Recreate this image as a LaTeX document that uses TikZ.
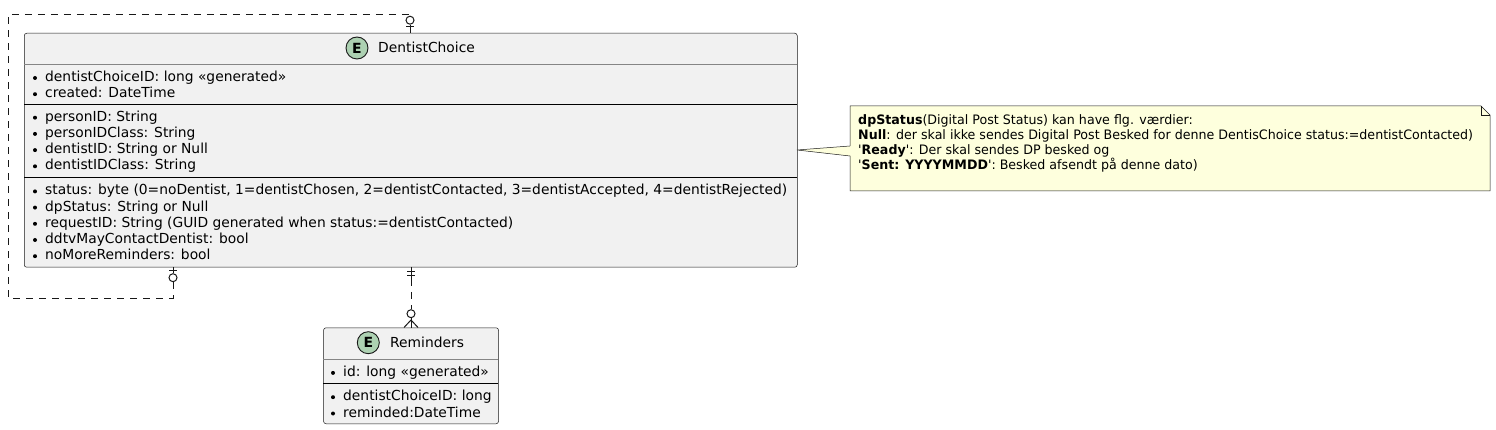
\documentclass[tikz,border=0pt]{standalone}
\usepackage{fontspec}
\setmainfont{DejaVu Sans}
\newfontfamily\notefont{DejaVu Sans}[FakeStretch=0.972]
\definecolor{entfill}{HTML}{F1F1F1}
\definecolor{entline}{HTML}{181818}
\definecolor{hdrgray}{HTML}{858585}
\definecolor{efill}{HTML}{ADD1B2}
\definecolor{notefill}{HTML}{FEFFDD}
\newcommand\attrline[4]{%
  \node[bulletdot] (#1b) at (#2-10,#3-3.6) {};
  \node[attr] (#1) at (#2,#3) {#4};}
\begin{document}
\begin{tikzpicture}[x=1pt,y=-1pt,
  entity/.style={draw=entline, line width=0.5pt, fill=entfill, rounded corners=2.5pt,
    anchor=north west, inner sep=0pt},
  sepline/.style={draw=black, line width=0.9pt},
  hdrline/.style={draw=hdrgray, line width=0.8pt},
  attr/.style={anchor=base west, inner sep=0pt, font=\fontsize{13.83}{16}\selectfont},
  bulletdot/.style={circle, fill=black, inner sep=0pt, minimum size=4pt},
  ebadge/.style={circle, draw=entline, line width=0.9pt, fill=efill, minimum size=22pt,
    inner sep=0pt, font=\fontsize{14}{14}\selectfont\bfseries},
  etitle/.style={anchor=base west, inner sep=0pt, font=\fontsize{13.83}{16}\selectfont},
  rel/.style={draw=entline, line width=1pt, dash pattern=on 7pt off 6pt},
  relsolid/.style={draw=entline, line width=1pt},
  notetext/.style={anchor=base west, inner sep=0pt, font=\notefont\fontsize{13}{15}\selectfont},
  noteshape/.style={draw=entline, line width=0.5pt, fill=notefill}
]
\useasboundingbox (0,0) rectangle (1496,430);

% ---------- DentistChoice ----------
\node[entity, minimum width=773pt, minimum height=234pt] (dc) at (24,33) {};
\draw[hdrline] (24,64.3) -- (797,64.3);
\draw[sepline] (24,104) -- (797,104);
\draw[sepline] (24,177.5) -- (797,177.5);
\node[ebadge] (dcE) at (357,48) {E};
\node[etitle] (dcT) at (378,53) {DentistChoice};
\attrline{a1}{45}{81.6}{dentistChoiceID: long «generated»}
\attrline{a2}{45}{97.8}{created: DateTime}
\attrline{a3}{45}{121.3}{personID: String}
\attrline{a4}{45}{137.5}{personIDClass: String}
\attrline{a5}{45}{153.7}{dentistID: String or Null}
\attrline{a6}{45}{169.9}{dentistIDClass: String}
\attrline{a7}{45}{195.0}{status: byte (0=noDentist, 1=dentistChosen, 2=dentistContacted, 3=dentistAccepted, 4=dentistRejected)}
\attrline{a8}{45}{211.2}{dpStatus: String or Null}
\attrline{a9}{45}{227.4}{requestID: String (GUID generated when status:=dentistContacted)}
\attrline{a10}{45}{243.6}{ddtvMayContactDentist: bool}
\attrline{a11}{45}{259.8}{noMoreReminders: bool}

% ---------- Reminders ----------
\node[entity, minimum width=175pt, minimum height=96pt] (rem) at (323.3,327.5) {};
\draw[hdrline] (323.3,359) -- (498.3,359);
\draw[sepline] (323.3,383.3) -- (498.3,383.3);
\node[ebadge] (remE) at (368.3,342.7) {E};
\node[etitle] (remT) at (390,347.7) {Reminders};
\attrline{r1}{343}{376.5}{id: long «generated»}
\attrline{r2}{343}{400.8}{dentistChoiceID: long}
\attrline{r3}{343}{417.1}{reminded:DateTime}

% ---------- self relation ----------
\coordinate (selfTop) at (410,33);
\coordinate (selfBot) at (173,267);
\coordinate (l1) at (173,298);
\coordinate (l2) at (8,298);
\coordinate (l3) at (8,14.7);
\coordinate (l4) at (410,14.7);
\node[circle, draw=entline, line width=1pt, minimum size=8pt, inner sep=0pt] (c1) at (410,20.2) {};
\node[circle, draw=entline, line width=1pt, minimum size=8pt, inner sep=0pt] (c2) at (173,277.7) {};
\draw[rel] (c2.south) -- (l1) -- (l2) -- (l3) -- (l4) -- (c1.north);
\draw[relsolid] (c1.south) -- (selfTop);
\draw[relsolid] (406,26.7) -- (414,26.7);
\draw[relsolid] (selfBot) -- (c2.north);
\draw[relsolid] (169,270.7) -- (177,270.7);

% ---------- DentistChoice -> Reminders ----------
\coordinate (dcBot) at (411,267);
\coordinate (remTop) at (411,327.5);
\coordinate (m1) at (411,279);
\node[circle, draw=entline, line width=1pt, minimum size=8pt, inner sep=0pt] (c3) at (411,313.7) {};
\draw[relsolid] (dcBot) -- (m1);
\draw[relsolid] (407,272) -- (415,272);
\draw[relsolid] (407,275.8) -- (415,275.8);
\draw[rel] (m1) -- (c3.north);
\draw[relsolid] (c3.south) -- (remTop);
\draw[relsolid] (404,327.5) -- (411,320) -- (418,327.5);

% ---------- note ----------
\coordinate (tip) at (797,150);
\draw[noteshape] (850,106) -- (1481,106) -- (1490,115) -- (1490,191) -- (850,191) -- (850,156)
  -- (tip) -- (850,146) -- cycle;
\draw[draw=entline, line width=0.5pt] (1481,106) -- (1481,115) -- (1490,115);
\node[notetext] (n1) at (858,124.3) {\textbf{dpStatus}(Digital Post Status) kan have flg. værdier:};
\node[notetext] (n2) at (858,139.4) {\textbf{Null}: der skal ikke sendes Digital Post Besked for denne DentisChoice status:=dentistContacted)};
\node[notetext] (n3) at (858,154.5) {'\textbf{Ready}': Der skal sendes DP besked og};
\node[notetext] (n4) at (858,169.6) {'\textbf{Sent: YYYYMMDD}': Besked afsendt på denne dato)};
\end{tikzpicture}
\end{document}
